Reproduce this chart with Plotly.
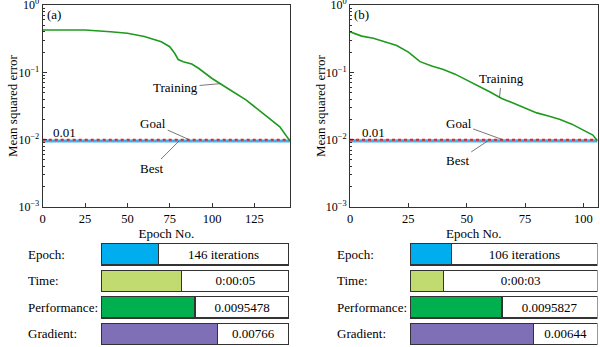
import math
import plotly.graph_objects as go

# ---- training-performance data -------------------------------------------
# (a) network run
epochs_a = [0, 10, 25, 40, 50, 60, 70, 75, 78, 80, 83, 88, 92, 100, 105, 110,
            120, 130, 140, 146]
mse_a = [0.425, 0.425, 0.425, 0.40, 0.38, 0.34, 0.285, 0.24, 0.19, 0.155,
         0.144, 0.133, 0.115, 0.081, 0.068, 0.056, 0.039, 0.0245, 0.0155,
         0.0095478]
# (b) network run
epochs_b = [0, 5, 10, 15, 20, 25, 30, 35, 40, 45, 50, 55, 60, 65, 70, 75, 80,
            85, 90, 95, 100, 104, 106]
mse_b = [0.40, 0.345, 0.32, 0.285, 0.25, 0.20, 0.144, 0.124, 0.11, 0.094,
         0.077, 0.062, 0.051, 0.041, 0.0345, 0.029, 0.025, 0.0224, 0.020,
         0.017, 0.0138, 0.0117, 0.0095827]

goal = 0.01
best_a = 0.0095478
best_b = 0.0095827
max_epoch_a = 146
max_epoch_b = 106

# ---- progress-panel data ---------------------------------------------------
rows = ["Epoch:", "Time:", "Performance:", "Gradient:"]
frac_a = [0.304, 0.43, 0.50, 0.62]
text_a = ["146 iterations", "0:00:05", "0.0095478", "0.00766"]
frac_b = [0.22, 0.18, 0.49, 0.66]
text_b = ["106 iterations", "0:00:03", "0.0095827", "0.00644"]
row_colors = ["#00AEEF", "#C2DB71", "#00B04F", "#7F6FB7"]

W, H = 600, 347
FONT = "Liberation Serif"


def px(x):
    return x / W


def py(y):
    return 1 - y / H


fig = go.Figure()

# ---- performance curves ------------------------------------------------------
def add_perf(xa, ya, epochs, mse, best, max_ep):
    fig.add_trace(go.Scatter(x=[0, max_ep], y=[best, best], mode="lines",
                             line=dict(color="#3DB1EC", width=3.2),
                             xaxis=xa, yaxis=ya, showlegend=False))
    fig.add_trace(go.Scatter(x=[0, max_ep], y=[goal, goal], mode="lines",
                             line=dict(color="#E8202A", width=2, dash="dot"),
                             xaxis=xa, yaxis=ya, showlegend=False))
    fig.add_trace(go.Scatter(x=epochs, y=mse, mode="lines",
                             line=dict(color="#1F9A1F", width=1.6),
                             xaxis=xa, yaxis=ya, showlegend=False))


add_perf("x", "y", epochs_a, mse_a, best_a, max_epoch_a)
add_perf("x2", "y2", epochs_b, mse_b, best_b, max_epoch_b)

# ---- progress bars -----------------------------------------------------------
def add_bars(xa, ya, fracs, texts):
    fig.add_trace(go.Bar(y=rows, x=fracs, orientation="h",
                         marker=dict(color=row_colors,
                                     line=dict(color="#333333", width=1.3)),
                         xaxis=xa, yaxis=ya, showlegend=False,
                         hoverinfo="skip"))
    fig.add_trace(go.Bar(y=rows, x=[1 - f for f in fracs], orientation="h",
                         marker=dict(color="white",
                                     line=dict(color="#333333", width=1.3)),
                         text=texts, textposition="inside",
                         insidetextanchor="middle",
                         textfont=dict(family=FONT, size=13, color="black"),
                         xaxis=xa, yaxis=ya, showlegend=False,
                         hoverinfo="skip"))


add_bars("x3", "y3", frac_a, text_a)
add_bars("x4", "y4", frac_b, text_b)

# ---- axes --------------------------------------------------------------------
ytickvals = [1e-3, 1e-2, 1e-1, 1]
yticktext = ["10<sup>−3</sup>", "10<sup>−2</sup>", "10<sup>−1</sup>",
             "10<sup>0</sup>"]
minor_vals = [m * 10 ** e for e in (-3, -2, -1) for m in range(2, 10)]

common_x = dict(showline=True, linecolor="#333333", linewidth=1, mirror=True,
                ticks="inside", ticklen=4, tickcolor="#333333",
                showgrid=False, zeroline=False, automargin=False,
                tickfont=dict(family=FONT, size=12.5, color="black"),
                title=dict(text="Epoch No.", standoff=2,
                           font=dict(family=FONT, size=13, color="black")))
common_y = dict(type="log", range=[-3, 0], showline=True, linecolor="#333333",
                linewidth=1, mirror=True, ticks="inside", ticklen=4,
                tickcolor="#333333", showgrid=False, zeroline=False,
                automargin=False,
                tickmode="array", tickvals=ytickvals, ticktext=yticktext,
                ticklabeloverflow="allow",
                minor=dict(tickmode="array", tickvals=minor_vals,
                           ticks="inside", ticklen=2, tickcolor="#333333"),
                tickfont=dict(family=FONT, size=12, color="black"))

dom_y = [py(207), py(5)]
fig.update_layout(
    xaxis=dict(common_x, domain=[px(42.7), px(290)], range=[0, max_epoch_a],
               tickvals=[0, 25, 50, 75, 100, 125], anchor="y"),
    yaxis=dict(common_y, domain=dom_y, anchor="x"),
    xaxis2=dict(common_x, domain=[px(350), px(597.5)],
                range=[0, max_epoch_b], tickvals=[0, 25, 50, 75, 100],
                anchor="y2"),
    yaxis2=dict(common_y, domain=dom_y, anchor="x2"),
)

bar_dom_y = [0, py(241.2)]
bar_x = dict(range=[0, 1], visible=False, fixedrange=True, automargin=False)
bar_y = dict(visible=False, autorange="reversed", type="category",
             automargin=False)
fig.update_layout(
    xaxis3=dict(bar_x, domain=[px(101), px(289)], anchor="y3"),
    yaxis3=dict(bar_y, domain=bar_dom_y, anchor="x3"),
    xaxis4=dict(bar_x, domain=[px(410), px(597.5)], anchor="y4"),
    yaxis4=dict(bar_y, domain=bar_dom_y, anchor="x4"),
    barmode="stack", bargap=0.2,
)

# ---- text --------------------------------------------------------------------
ann = []
tf = dict(family=FONT, size=13, color="black")


def label(x, y, text, size=13, xanchor="center", **kw):
    ann.append(dict(x=px(x), y=py(y), xref="paper", yref="paper", text=text,
                    showarrow=False, xanchor=xanchor, yanchor="middle",
                    font=dict(family=FONT, size=size, color="black"), **kw))


def pointer(xa, ya, x, y, text, ax, ay):
    ann.append(dict(x=x, y=y, xref=xa, yref=ya, text=text, showarrow=True,
                    arrowhead=0, arrowwidth=0.8, arrowcolor="#555555",
                    ax=ax, ay=ay, standoff=0, font=tf))


# axis titles on the left
for xc in (12, 320):
    label(xc, 106, "Mean squared error", textangle=-90)

label(54, 15, "(a)")
label(361, 15, "(b)")
label(64, 132, "0.01")
label(373, 132, "0.01")

pointer("x", "y", 105, math.log10(0.068), "Training", -45, 4)
pointer("x", "y", 86.5, math.log10(goal), "Goal", -36, -16)
pointer("x", "y", 80.5, math.log10(best_a), "Best", -27, 27)
pointer("x2", "y2", 64, math.log10(0.0416), "Training", 2, -19)
pointer("x2", "y2", 65.4, math.log10(goal), "Goal", -44, -16)
pointer("x2", "y2", 59, math.log10(best_b), "Best", -30, 20)

row_y = [254.4, 280.9, 307.3, 333.8]
for name, yy in zip(rows, row_y):
    label(26, yy, name, xanchor="left")
    label(335, yy, name, xanchor="left")

fig.update_layout(
    annotations=ann,
    width=W, height=H, margin=dict(l=0, r=0, t=0, b=0),
    paper_bgcolor="white", plot_bgcolor="white",
    font=dict(family=FONT, color="black"),
)

fig.write_html("out.html")
